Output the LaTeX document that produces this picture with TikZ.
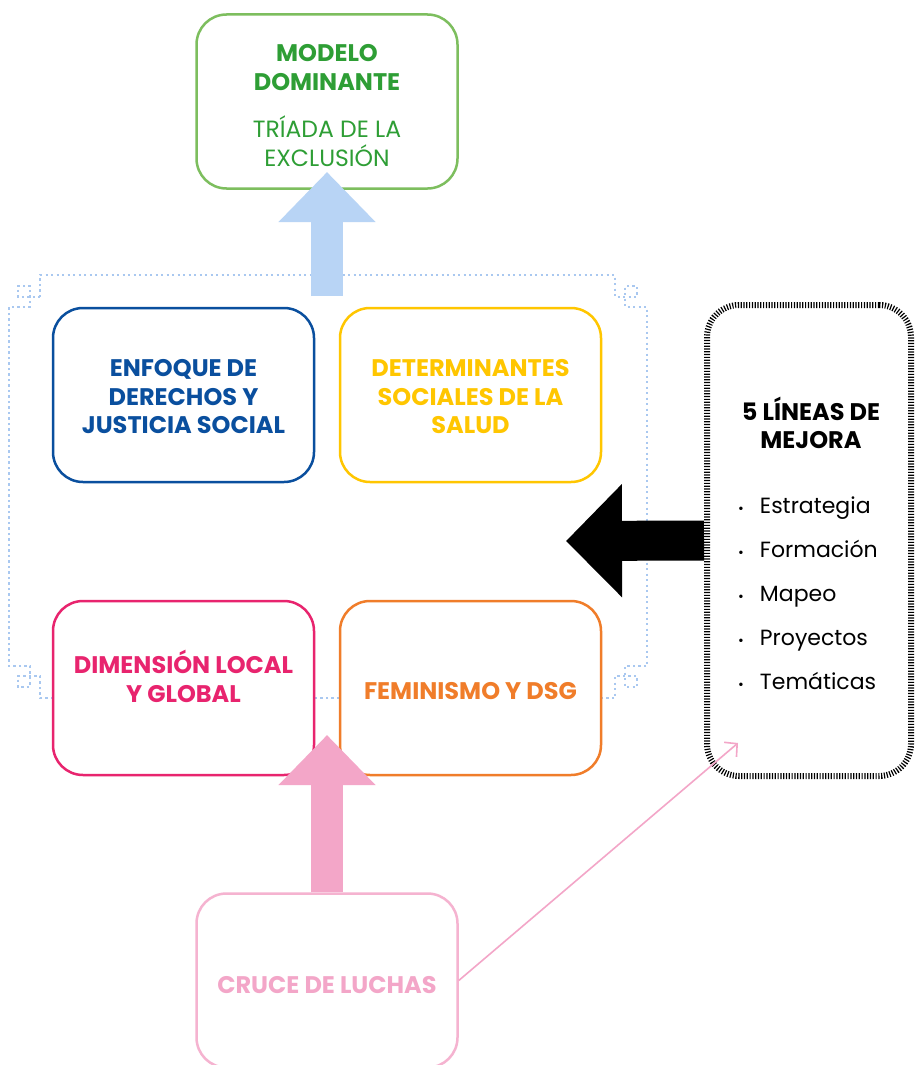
\documentclass[tikz,border=0pt]{standalone}
\usepackage{fontspec}
\setmainfont{Poppins}
\usetikzlibrary{arrows.meta}
\definecolor{greenT}{HTML}{2E9E35}
\definecolor{greenB}{HTML}{7DBE5E}
\definecolor{blueT}{HTML}{0A4F9E}
\definecolor{yellowT}{HTML}{FFC600}
\definecolor{pinkT}{HTML}{E8246E}
\definecolor{orangeT}{HTML}{F07D2A}
\definecolor{softpink}{HTML}{F3A6C8}
\definecolor{lightblue}{HTML}{B8D4F5}
\definecolor{framec}{HTML}{A9C8F0}
\tikzset{
  box/.style={draw, fill=white, rounded corners=30pt, line width=2.5pt,
    minimum width=261pt, minimum height=174pt, inner sep=0pt},
  head/.style={font=\fontsize{24}{28.5}\selectfont\bfseries, align=center, inner sep=0pt},
  frameline/.style={draw=framec, line width=2.4pt, dash pattern=on 2.2pt off 3.3pt},
  blockarrow/.style={line width=32pt, -{Triangle[length=50pt,width=94pt]}},
  itemtext/.style={font=\fontsize{22}{24}\selectfont, anchor=base west, inner sep=0pt},
}
\begin{document}
\begin{tikzpicture}[x=1pt,y=-1pt]
\useasboundingbox (0,0) rectangle (917,1065);
\clip (0,0) rectangle (917,1065);
\fill[white] (0,0) rectangle (917,1065);

% dotted frame
\draw[frameline] (40,297) -- (40,275) -- (615,275) -- (615,297) -- (637,297) -- (637,286)
  -- (625,286) -- (625,307) -- (647,307) -- (647,666) -- (625,666) -- (625,687) -- (637,687)
  -- (637,676) -- (615,676) -- (615,698) -- (40,698) -- (40,676) -- (18,676) -- (18,687)
  -- (30,687) -- (30,666) -- (9,666) -- (9,307) -- (30,307) -- (30,286) -- (18,286)
  -- (18,297) -- (40,297);

% top box
\node[box, draw=greenB] (modelo) at (327,101.5) {};
\node[head, text=greenT] (modeloT) at (327,67.5) {MODELO\\DOMINANTE};
\node[font=\fontsize{23.5}{29}\selectfont, align=center, inner sep=0pt, text=greenT]
  (triada) at (327,141) {TRÍADA DE LA\\EXCLUSIÓN};

% blue arrow
\coordinate (blueS) at (327,296);
\coordinate (blueE) at (327,172);
\draw[blockarrow, lightblue] (blueS) -- (blueE);

% four boxes
\node[box, draw=blueT] (enfoque) at (183.5,395) {};
\node[head, text=blueT] (enfoqueT) at (183.5,397) {ENFOQUE DE\\DERECHOS Y\\JUSTICIA SOCIAL};
\node[box, draw=yellowT] (det) at (470.5,395) {};
\node[head, text=yellowT] (detT) at (470.5,397) {DETERMINANTES\\SOCIALES DE LA\\SALUD};
\node[box, draw=pinkT] (dim) at (183.5,688) {};
\node[head, text=pinkT] (dimT) at (183.5,676.5) {DIMENSIÓN LOCAL\\Y GLOBAL};
\node[box, draw=orangeT] (fem) at (470.5,688) {};
\node[head, text=orangeT] (femT) at (470.5,691) {FEMINISMO Y DSG};

% bottom box
\node[box, draw=softpink!85] (cruce) at (327,980.5) {};
\node[head, text=softpink] (cruceT) at (327,985) {CRUCE DE LUCHAS};

% pink arrow
\coordinate (pinkE) at (327,735);
\draw[blockarrow, softpink] (cruce.north) -- (pinkE);

% right box
\node[draw=black, line width=6pt, dash pattern=on 1.2pt off 1.6pt, rounded corners=32pt,
  minimum width=204pt, minimum height=471pt, inner sep=0pt] (lineas) at (809,540.5) {};
\node[head, text=black] (lineasT) at (811,423) {5 LÍNEAS DE\\MEJORA};
\foreach \y/\t [count=\i] in {505/Estrategia,549/Formación,593/Mapeo,637/Proyectos,681/Temáticas}{
  \node[itemtext] (it\i) at (738,\y+8) {{\fontsize{14}{14}\selectfont•}\hspace{16pt}\t};
}

% black arrow
\coordinate (blackE) at (566,541);
\draw[line width=40pt, -{Triangle[length=56pt,width=110pt]}] (lineas.west) -- (blackE);

% thin pink arrow
\coordinate (thinE) at (738,743);
\draw[softpink, line width=1.6pt, -{Straight Barb[length=9pt,width=19pt]}] (cruce.east) -- (thinE);
\end{tikzpicture}
\end{document}
